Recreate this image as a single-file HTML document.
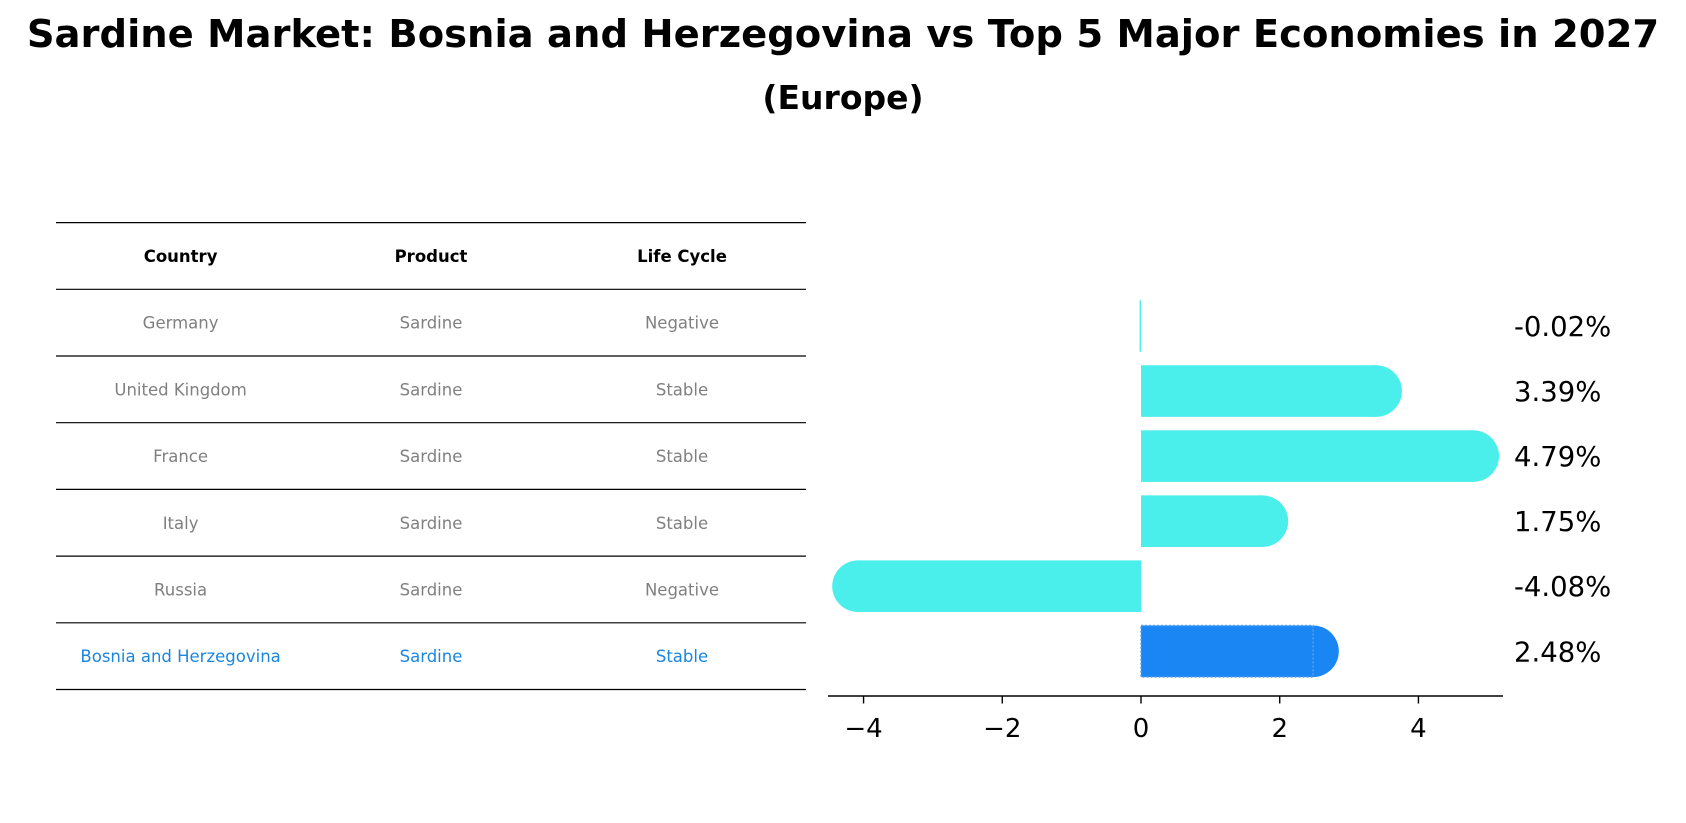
<!DOCTYPE html>
<html><head><meta charset="utf-8"><style>
body{margin:0;background:#fff;font-family:"DejaVu Sans","Liberation Sans",sans-serif;}
#wrap{position:relative;width:1686px;height:823px;overflow:hidden;}
.t{position:absolute;left:0;width:1686px;text-align:center;font-weight:bold;color:#000;white-space:nowrap;}
</style></head><body>
<div id="wrap">
<div class="t" style="top:12px;font-size:38.5px;">Sardine Market: Bosnia and Herzegovina vs Top 5 Major Economies in 2027</div>
<div class="t" style="top:78px;font-size:33px;">(Europe)</div>
<svg id="svg" width="1686" height="823" style="position:absolute;left:0;top:0;font-family:'DejaVu Sans',sans-serif"></svg>
</div>
<script>
const countries=["Germany","United Kingdom","France","Italy","Russia","Bosnia and Herzegovina"];
const products=["Sardine","Sardine","Sardine","Sardine","Sardine","Sardine"];
const lifeCycles=["Negative","Stable","Stable","Stable","Negative","Stable"];
const growth=[-0.02,3.39,4.79,1.75,-4.08,2.48];
const valueLabels=["-0.02%","3.39%","4.79%","1.75%","-4.08%","2.48%"];
const xTicks=[-4,-2,0,2,4];
const xTickLabels=["\u22124","\u22122","0","2","4"];

const NS="http://www.w3.org/2000/svg";
const svg=document.getElementById('svg');
function mk(tag,attrs,name,text){const e=document.createElementNS(NS,tag);for(const k in attrs)e.setAttribute(k,attrs[k]);


if(text!==undefined)e.textContent=text;svg.appendChild(e);return e;}
// table
const tx0=56,tx1=806,ty0=222.6,rowH=66.7,colX=[180.6,431,682];
for(let i=0;i<=countries.length+1;i++){mk('line',{x1:tx0,x2:tx1,y1:ty0+i*rowH,y2:ty0+i*rowH,stroke:'#000','stroke-width':1.2},'table-rule');}
["Country","Product","Life Cycle"].forEach((h,j)=>mk('text',{x:colX[j],y:ty0+rowH/2+6,'text-anchor':'middle','font-size':16.5,'font-weight':'bold',fill:'#000'},'table-header',h));
countries.forEach((c,i)=>{const y=ty0+(i+1.5)*rowH+6;const col=i===countries.length-1?'#1a86e0':'#808080';
[c,products[i],lifeCycles[i]].forEach((v,j)=>mk('text',{x:colX[j],y:y,'text-anchor':'middle','font-size':16.5,fill:col},'table-cell',v));});
// bar chart
const x0=1141,ppu=69.36;const X=v=>x0+v*ppu;
const yTop=326,step=65.05,bh=51.6;const Y=i=>yTop+i*step;
growth.forEach((v,i)=>{const last=i===growth.length-1;const col=last?'#1a86f4':'#4aeeea';const cy=Y(i);
const xa=Math.min(X(0),X(v)),w=Math.abs(X(v)-X(0));
if(w>2){mk('circle',{cx:X(v),cy:cy,r:bh/2,fill:col},'bar-cap-'+countries[i].toLowerCase().replace(/ /g,'-'));}
mk('rect',{x:xa,y:cy-bh/2,width:Math.max(w,1),height:bh,fill:col,stroke:last?'#5aa0e8':'none','stroke-dasharray':last?'2,2':'none','stroke-width':last?1.5:0},'bar-'+countries[i].toLowerCase().replace(/ /g,'-'));
mk('text',{x:1514,y:cy+10,'font-size':27.5,fill:'#000'},'value-label',valueLabels[i]);});
mk('line',{x1:828,x2:1503,y1:696,y2:696,stroke:'#000','stroke-width':1.4},'x-axis-line');
xTicks.forEach((t,i)=>{mk('line',{x1:X(t),x2:X(t),y1:696,y2:703.5,stroke:'#000','stroke-width':1.4},'x-tick');
mk('text',{x:X(t),y:737,'text-anchor':'middle','font-size':26,fill:'#000'},'x-tick-label',xTickLabels[i]);});
</script>
</body></html>
